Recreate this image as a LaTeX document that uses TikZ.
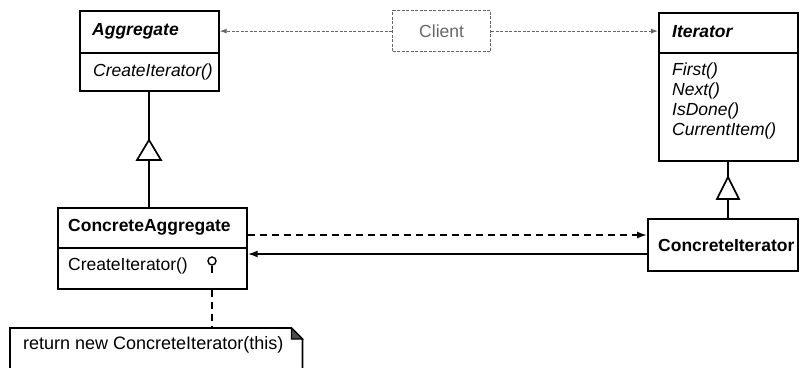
\documentclass[tikz,border=0pt]{standalone}
\usepackage{fontspec}
\setmainfont{Liberation Sans}
\usetikzlibrary{arrows.meta}
\begin{document}
\begin{tikzpicture}[x=1pt,y=-1pt,
  box/.style={draw, line width=1.7pt, inner sep=0pt, anchor=north west},
  txt/.style={anchor=west, inner sep=0pt, font=\fontsize{17.5}{20}\selectfont},
  clsname/.style={txt, font=\fontsize{17.5}{20}\selectfont\bfseries},
  absname/.style={txt, font=\fontsize{17.5}{20}\selectfont\bfseries\itshape},
  absop/.style={txt, font=\fontsize{17.5}{20}\selectfont\itshape},
  conn/.style={line width=1.7pt},
  tip/.style={-{Latex[length=10pt,width=7pt]}},
  clientline/.style={draw=black!60, line width=1pt, dash pattern=on 3pt off 1.5pt, -{Latex[length=7pt,width=5pt]}},
  tri/.style={draw, line width=1.7pt, fill=white}
]
\useasboundingbox (0,0) rectangle (800,367);

% Aggregate
\node[box, minimum width=139pt, minimum height=42pt] (aggH) at (79,10) {};
\node[box, minimum width=139pt, minimum height=38pt] (aggB) at (79,52) {};
\node[absname] (aggN) at (92,31) {Aggregate};
\node[absop] (aggO) at (93,72) {CreateIterator()};

% Client
\node[box, draw=black!60, dash pattern=on 3pt off 1.5pt, line width=1.2pt, minimum width=98pt, minimum height=41pt] (client) at (392,10) {};
\node[txt, anchor=center, text=black!60] (clientT) at (client.center) {Client};

% Iterator
\node[box, minimum width=139pt, minimum height=40pt] (itH) at (658,12) {};
\node[box, minimum width=139pt, minimum height=108pt] (itB) at (658,52) {};
\node[absname] (itN) at (672,32) {Iterator};
\node[absop] (itO1) at (672,71) {First()};
\node[absop] (itO2) at (672,91) {Next()};
\node[absop] (itO3) at (672,111) {IsDone()};
\node[absop] (itO4) at (672,131) {CurrentItem()};

% ConcreteAggregate
\node[box, minimum width=189pt, minimum height=40pt] (caH) at (57,207) {};
\node[box, minimum width=189pt, minimum height=41pt] (caB) at (57,247) {};
\node[clsname] (caN) at (68,227) {ConcreteAggregate};
\node[txt] (caO) at (68,266) {CreateIterator()};
\node[circle, draw, line width=1.4pt, minimum size=8pt, inner sep=0pt] (pin) at (212,261) {};

% ConcreteIterator
\node[box, minimum width=150pt, minimum height=52pt] (ci) at (647,218) {};
\node[clsname] (ciN) at (658,245) {ConcreteIterator};

% Note
\node[anchor=north west, minimum width=292pt, minimum height=42pt, inner sep=0pt] (note) at (10,328) {};
\draw[line width=1.7pt] (note.north west) -- ([xshift=-11pt]note.north east) -- ([yshift=-11pt]note.north east) -- (note.south east) -- (note.south west) -- cycle;
\draw[line width=1.2pt, fill=black!70] ([xshift=-11pt]note.north east) -- ([xshift=-11pt,yshift=-11pt]note.north east) -- ([yshift=-11pt]note.north east) -- cycle;
\node[txt, font=\fontsize{18}{20}\selectfont] (noteT) at (23,345) {return new ConcreteIterator(this)};

% Client connectors
\draw[clientline] (client.west) -- (client.west -| aggH.east);
\draw[clientline] (client.east) -- (client.east -| itH.west);

% Inheritance: ConcreteAggregate -> Aggregate
\coordinate (aggX) at (149,0);
\draw[conn] (caH.north -| aggX) -- (aggB.south -| aggX);
\draw[tri] (149,140) -- (137,160) -- (161,160) -- cycle;

% Inheritance: ConcreteIterator -> Iterator
\coordinate (itX) at (728,0);
\draw[conn] (ci.north -| itX) -- (itB.south -| itX);
\draw[tri] (728,177) -- (717,199) -- (739,199) -- cycle;

% Dependency / association
\coordinate (dA) at (0,235);
\coordinate (dB) at (0,254);
\draw[conn, tip, dash pattern=on 7pt off 5pt] (caH.east |- dA) -- (ci.west |- dA);
\draw[conn, tip] (ci.west |- dB) -- (caB.east |- dB);

% Note link
\draw[conn] (pin.south) -- ++(0,7);
\draw[conn, dash pattern=on 7pt off 5pt] (caB.south -| pin) -- (note.north -| pin);
\end{tikzpicture}
\end{document}
